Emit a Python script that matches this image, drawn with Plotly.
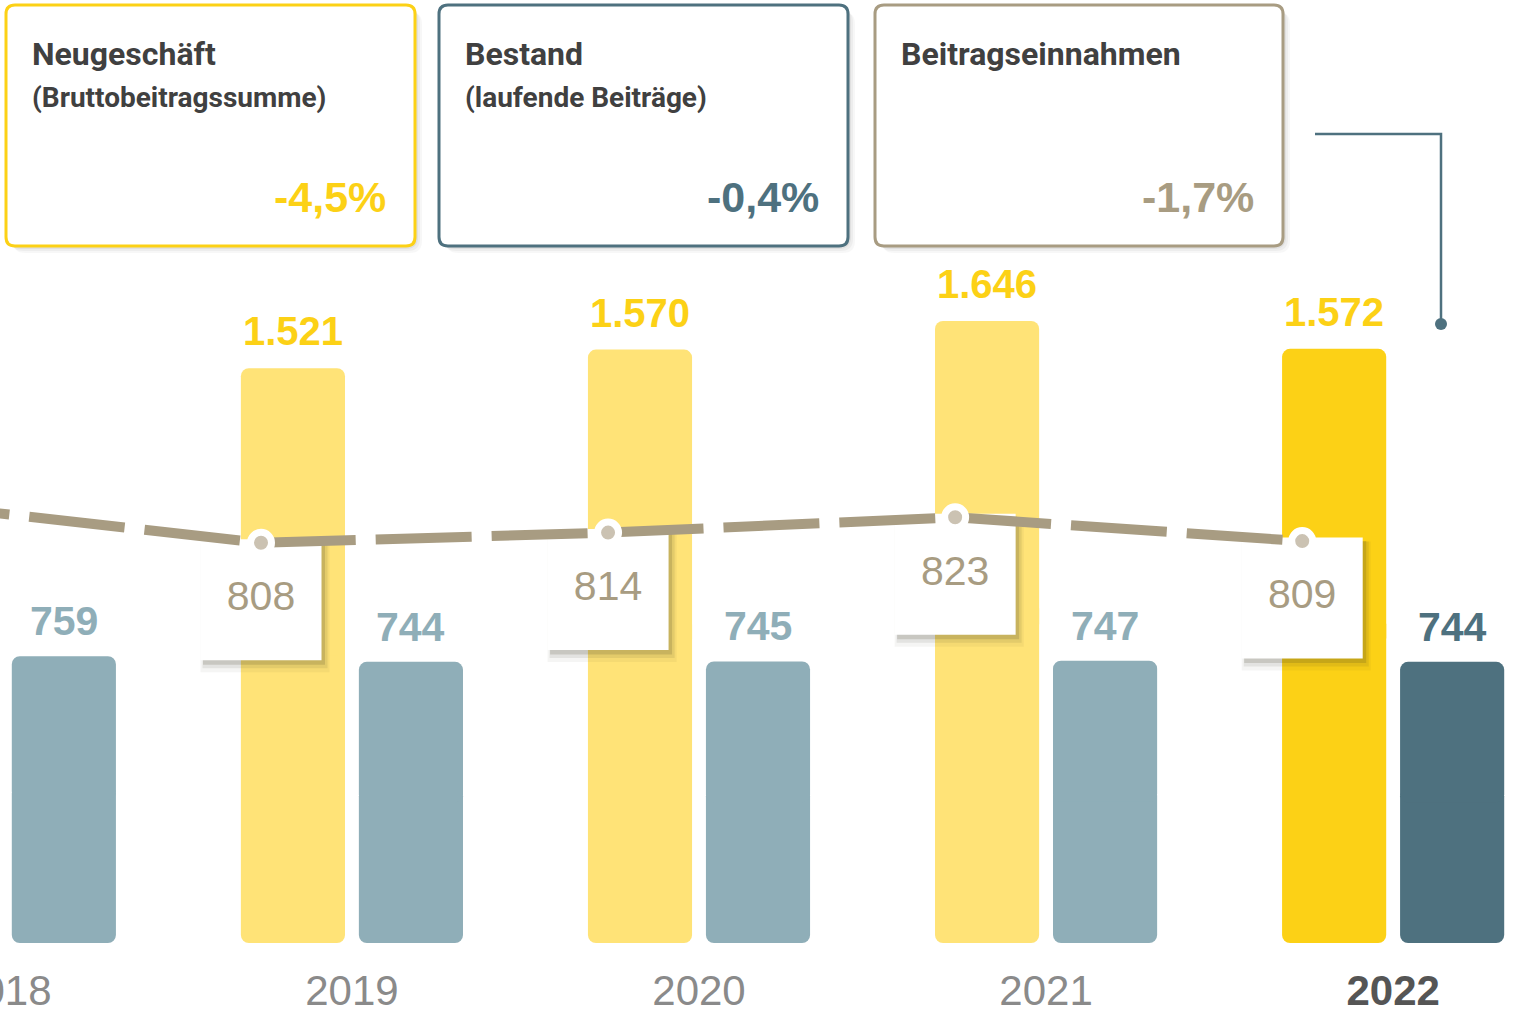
import plotly.graph_objects as go

# --- data (Mio. EUR) ---------------------------------------------------------
years = [2018, 2019, 2020, 2021, 2022]
neugeschaeft = [None, 1521, 1570, 1646, 1572]      # 2018 outside of the crop
bestand = [759, 744, 745, 747, 744]
beitragseinnahmen = [831, 808, 814, 823, 809]      # 2018 estimated, label cut off

kpi_titles = ["Neugeschäft", "Bestand", "Beitragseinnahmen"]
kpi_subtitles = ["(Bruttobeitragssumme)", "(laufende Beiträge)", ""]
kpi_changes = ["-4,5%", "-0,4%", "-1,7%"]

# --- style ---------------------------------------------------------------------
YELLOW = "#FCD116"
YELLOW_LIGHT = "#FFE377"
BLUE = "#4E717F"
BLUE_LIGHT = "#8FAEB8"
TAN = "#A89C82"
DOT = "#CBC2B2"
DARK = "#404040"
FONT = "Liberation Sans, Arial, sans-serif"
NARROW = "Roboto, Liberation Sans, sans-serif"

W, H = 1516, 1011
MB = 68
PLOT_H = H - MB
X_RANGE = [2017.986, 2022.354]
Y_RANGE = [0, 2495]
Y2_RANGE = [572.6, 1127.3]
px_x = W / (X_RANGE[1] - X_RANGE[0])
px_y2 = PLOT_H / (Y2_RANGE[1] - Y2_RANGE[0])

BAR_OFF = 0.17
BAR_W = 0.30
DOT_OFF = -0.262


def de(v):
    return f"{v:,}".replace(",", ".")


def px(x, y):
    # pixel position -> paper coordinates
    return x / W, 1 - y / PLOT_H


def rrect(x0, y0, x1, y1, r=9):
    a, b = px(x0, y0)
    c, d = px(x1, y1)
    rx, ry = r / W, r / PLOT_H
    return (f"M{a+rx},{b} L{c-rx},{b} Q{c},{b} {c},{b-ry} L{c},{d+ry} Q{c},{d} {c-rx},{d} "
            f"L{a+rx},{d} Q{a},{d} {a},{d+ry} L{a},{b-ry} Q{a},{b} {a+rx},{b} Z")


fig = go.Figure()


# bars drawn in two overlapping halves so both ends get rounded corners
def add_bars(xs, vals, colors):
    low_base = [v * 0.55 if v else None for v in vals]
    low_y = [-v * 0.55 if v else None for v in vals]
    up_base = [v * 0.5 if v else None for v in vals]
    up_y = [v * 0.5 if v else None for v in vals]
    for base, y in [(low_base, low_y), (up_base, up_y)]:
        fig.add_trace(go.Bar(x=xs, y=y, base=base, width=BAR_W,
                             marker=dict(color=colors, cornerradius=8, line_width=0),
                             hoverinfo="skip", showlegend=False))


add_bars([y - BAR_OFF for y in years], neugeschaeft,
         [YELLOW_LIGHT] * 4 + [YELLOW])
add_bars([y + BAR_OFF for y in years], bestand,
         [BLUE_LIGHT] * 4 + [BLUE])

# label boxes of the line (soft shadow + white box), hanging below each point
dot_x = [y + DOT_OFF for y in years]
for dx, dy, size, col in [(4, 8, 129, "rgba(60,55,30,0.05)"),
                          (4, 6, 125, "rgba(60,55,30,0.09)"),
                          (3, 4, 122, "rgba(60,55,30,0.16)")]:
    fig.add_trace(go.Scatter(
        x=[x + dx / px_x for x in dot_x],
        y=[v - (57 + dy) / px_y2 for v in beitragseinnahmen],
        yaxis="y2", mode="markers",
        marker=dict(symbol="square", size=size, color=col, line_width=0),
        hoverinfo="skip", showlegend=False))
fig.add_trace(go.Scatter(
    x=dot_x, y=[v - 57 / px_y2 for v in beitragseinnahmen],
    yaxis="y2", mode="markers+text",
    marker=dict(symbol="square", size=121, color="white", line_width=0),
    text=[str(v) for v in beitragseinnahmen], textposition="middle center",
    textfont=dict(size=41, color=TAN, family=FONT),
    hoverinfo="skip", showlegend=False))

# Beitragseinnahmen line
fig.add_trace(go.Scatter(
    x=dot_x, y=beitragseinnahmen, yaxis="y2", mode="lines",
    line=dict(color=TAN, width=10, dash="96px,20px"),
    hoverinfo="skip", showlegend=False))
fig.add_trace(go.Scatter(
    x=dot_x, y=beitragseinnahmen, yaxis="y2", mode="markers",
    marker=dict(size=21, color=DOT, line=dict(color="white", width=7)),
    hoverinfo="skip", showlegend=False))

# value labels above the bars
for yr, v in zip(years, neugeschaeft):
    if v:
        fig.add_annotation(x=yr - BAR_OFF, y=v, text=f"<b>{de(v)}</b>", showarrow=False,
                           yanchor="middle", yshift=37,
                           font=dict(size=40, color=YELLOW, family=FONT))
for yr, v in zip(years, bestand):
    fig.add_annotation(x=yr + BAR_OFF, y=v, text=f"<b>{de(v)}</b>", showarrow=False,
                       yanchor="middle", yshift=35,
                       font=dict(size=41, color=BLUE if yr == years[-1] else BLUE_LIGHT,
                                 family=FONT))

# KPI boxes at the top
boxes = [(6, 415, YELLOW), (439, 848, BLUE), (875, 1283, TAN)]
for (x0, x1, col), title, sub, chg in zip(boxes, kpi_titles, kpi_subtitles, kpi_changes):
    for o, a in [(7, 0.03), (5, 0.04), (3, 0.05)]:
        fig.add_shape(type="path", path=rrect(x0 + o, 5 + o, x1 + o, 246 + o, 12),
                      xref="paper", yref="paper", fillcolor=f"rgba(0,0,0,{a})",
                      line_width=0, layer="below")
    fig.add_shape(type="path", path=rrect(x0, 5, x1, 246), xref="paper", yref="paper",
                  fillcolor="white", line=dict(color=col, width=3), layer="below")
    tx, ty = px(x0 + 24, 54)
    fig.add_annotation(x=tx, y=ty, xref="paper", yref="paper", text=f"<b>{title}</b>",
                       showarrow=False, xanchor="left", yanchor="middle",
                       font=dict(size=32, color=DARK, family=NARROW))
    if sub:
        sx, sy = px(x0 + 24, 97)
        fig.add_annotation(x=sx, y=sy, xref="paper", yref="paper", text=f"<b>{sub}</b>",
                           showarrow=False, xanchor="left", yanchor="middle",
                           font=dict(size=28, color=DARK, family=NARROW))
    cx, cy = px(x1 - 27, 197)
    fig.add_annotation(x=cx, y=cy, xref="paper", yref="paper", text=f"<b>{chg}</b>",
                       showarrow=False, xanchor="right", yanchor="middle",
                       font=dict(size=43, color=col, family=FONT))

# connector coming in from the right
a, b = px(1315, 134)
c, d = px(1441, 324)
fig.add_shape(type="path", path=f"M{a},{b} L{c},{b} L{c},{d}", xref="paper", yref="paper",
              line=dict(color=BLUE, width=2.5))
r0, r1 = px(1435, 318), px(1447, 330)
fig.add_shape(type="circle", x0=r0[0], y0=r0[1], x1=r1[0], y1=r1[1],
              xref="paper", yref="paper", fillcolor=BLUE, line_width=0)

tick_text = [str(y) for y in years[:-1]] + [f"<b><span style='color:#555555'>{years[-1]}</span></b>"]

fig.update_layout(
    width=W, height=H,
    margin=dict(l=0, r=0, t=0, b=MB),
    paper_bgcolor="white", plot_bgcolor="white",
    barmode="overlay",
    font=dict(family=FONT),
    xaxis=dict(range=X_RANGE, tickvals=years, ticktext=tick_text, showgrid=False,
               zeroline=False, showline=False, ticks="", automargin=False,
               tickfont=dict(size=42, color="#8A8A8A", family=FONT),
               ticklabelstandoff=19, ticklabeloverflow="allow"),
    yaxis=dict(range=Y_RANGE, visible=False),
    yaxis2=dict(range=Y2_RANGE, visible=False, overlaying="y"),
)

# the page's default body margin would shift the chart by 8px
fig.write_html("out.html", config={"displayModeBar": False},
               post_script="document.body.style.margin = '0';")
